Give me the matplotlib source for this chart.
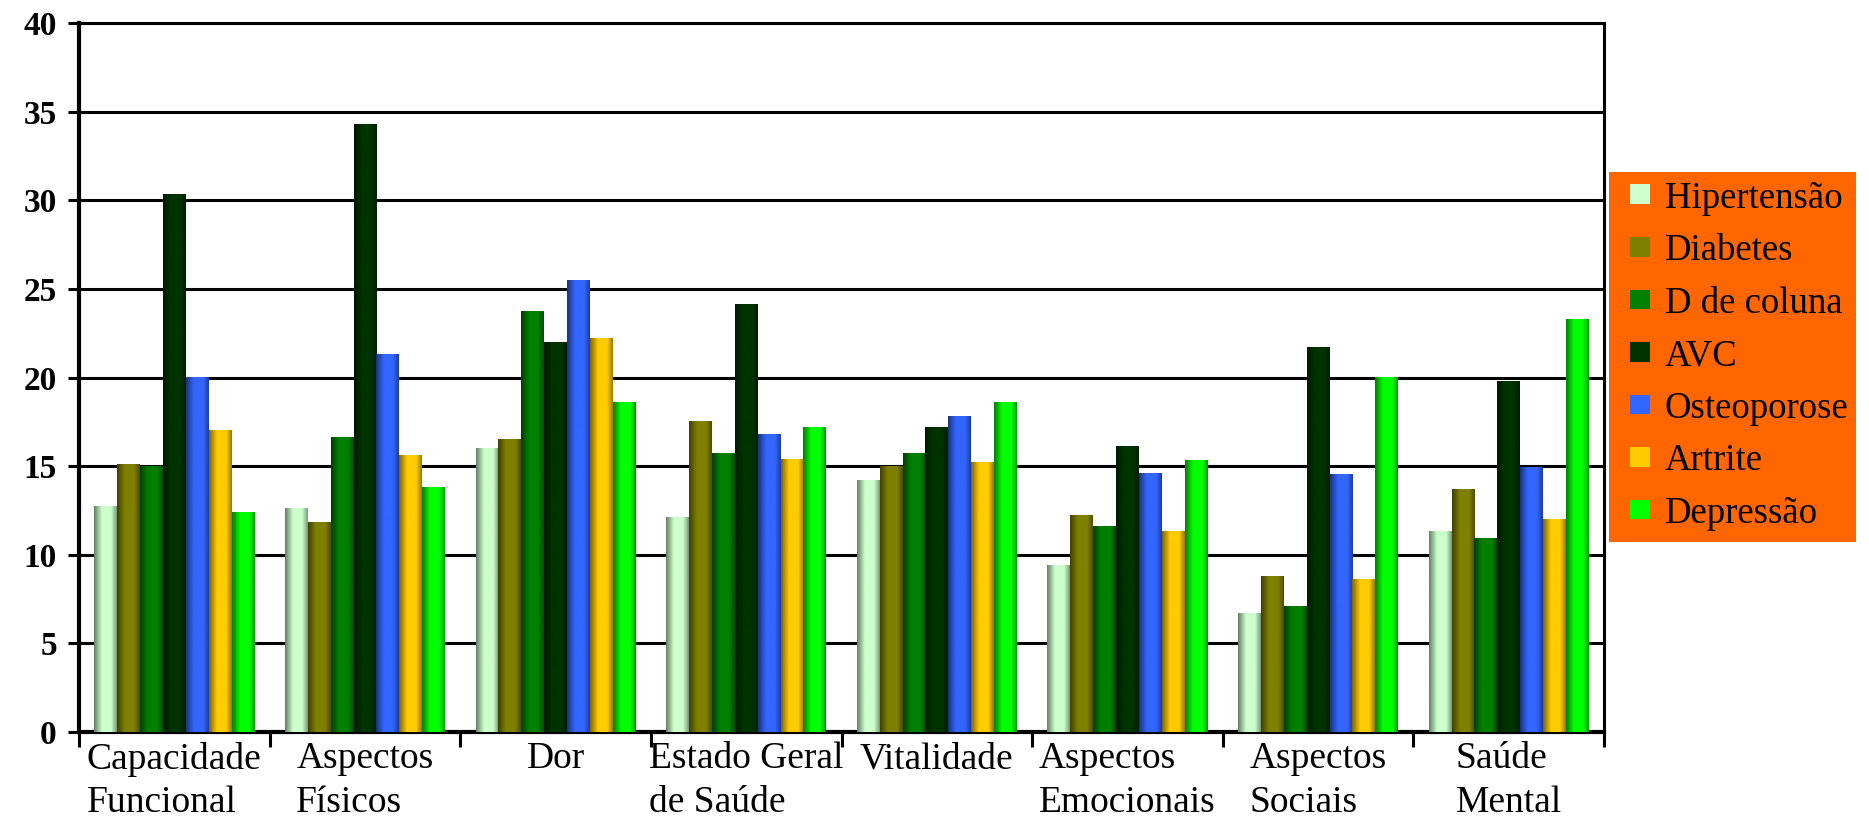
import numpy as np
import matplotlib.pyplot as plt
from matplotlib.patches import Patch, Rectangle
from matplotlib.colors import to_rgb

categories = ['Capacidade\nFuncional', 'Aspectos\nFísicos', 'Dor', 'Estado Geral\nde Saúde',
              'Vitalidade', 'Aspectos\nEmocionais', 'Aspectos\nSociais', 'Saúde\nMental']
series = ['Hipertensão', 'Diabetes', 'D de coluna', 'AVC', 'Osteoporose', 'Artrite', 'Depressão']
colors = ['#CCFFCC', '#808000', '#008000', '#003300', '#3366FF', '#FFCC00', '#00FF00']

hipertensao = [12.7, 12.6, 16.0, 12.1, 14.2, 9.4, 6.7, 11.3]
diabetes = [15.1, 11.8, 16.5, 17.5, 15.0, 12.2, 8.8, 13.7]
coluna = [15.0, 16.6, 23.7, 15.7, 15.7, 11.6, 7.1, 10.9]
avc = [30.3, 34.3, 22.0, 24.1, 17.2, 16.1, 21.7, 19.8]
osteoporose = [20.0, 21.3, 25.5, 16.8, 17.8, 14.6, 14.5, 14.9]
artrite = [17.0, 15.6, 22.2, 15.4, 15.2, 11.3, 8.6, 12.0]
depressao = [12.4, 13.8, 18.6, 17.2, 18.6, 15.3, 20.0, 23.3]

values = [hipertensao, diabetes, coluna, avc, osteoporose, artrite, depressao]

serif = 'Liberation Serif'
fig = plt.figure(figsize=(18.69, 8.19), dpi=100)
ax = fig.add_axes([79 / 1869, 1 - 732 / 819, (1604 - 79) / 1869, (732 - 23) / 819])

x = np.arange(len(categories))
w = 0.12
# cylinder-like shading across each bar (dark edge, bright middle)
t = np.linspace(0, 1, 64)
shade = np.interp(t, [0, 0.35, 0.75, 1], [0.5, 1.0, 1.0, 0.6])

for j, (vals, c) in enumerate(zip(values, colors)):
    bars = ax.bar(x + (j - 3) * w, vals, w, color=c, zorder=3, linewidth=0)
    img = (shade[:, None] * np.array(to_rgb(c))[None, :])[None, :, :]
    for b in bars:
        x0 = b.get_x()
        ax.imshow(img, extent=(x0, x0 + b.get_width(), 0, b.get_height()),
                  aspect='auto', zorder=4, interpolation='bilinear')

ax.set_xlim(-0.5, len(categories) - 0.5)
ax.set_ylim(0, 40)
ax.set_yticks(np.arange(0, 41, 5))
ax.yaxis.grid(True, color='black', linewidth=2.2)
ax.set_axisbelow(True)

ax.set_xticks(np.arange(-0.5, len(categories), 1))
ax.set_xticklabels([])
ax.set_xticks(x, minor=True)
ax.set_xticklabels(categories, minor=True, fontfamily=serif, fontsize=27,
                   multialignment='left', linespacing=1.35)
ax.tick_params(axis='x', which='major', length=11, width=2.2, direction='out')
ax.tick_params(axis='x', which='minor', length=0, pad=7)
ax.tick_params(axis='y', length=8, width=2.2, direction='out', pad=8)
for lab in ax.get_yticklabels():
    lab.set_fontfamily(serif)
    lab.set_fontweight('bold')
    lab.set_fontsize(24)

for s in ['left', 'bottom']:
    ax.spines[s].set_linewidth(3)
for s in ['top', 'right']:
    ax.spines[s].set_linewidth(2.2)

fig.add_artist(Rectangle((1609 / 1869, 1 - 542 / 819), 247 / 1869, 370 / 819,
                         transform=fig.transFigure, facecolor='#FF6600',
                         edgecolor='none', zorder=0))
handles = [Patch(facecolor=c, edgecolor='none') for c in colors]
fig.legend(handles, series, loc='upper left', bbox_to_anchor=(1630 / 1869, 1 - 181 / 819),
           frameon=False, prop={'family': serif, 'size': 26.5}, handlelength=0.55,
           handleheight=0.45, handletextpad=0.4, labelspacing=0.49, borderpad=0,
           borderaxespad=0)

fig.savefig('out.png', dpi=100)
